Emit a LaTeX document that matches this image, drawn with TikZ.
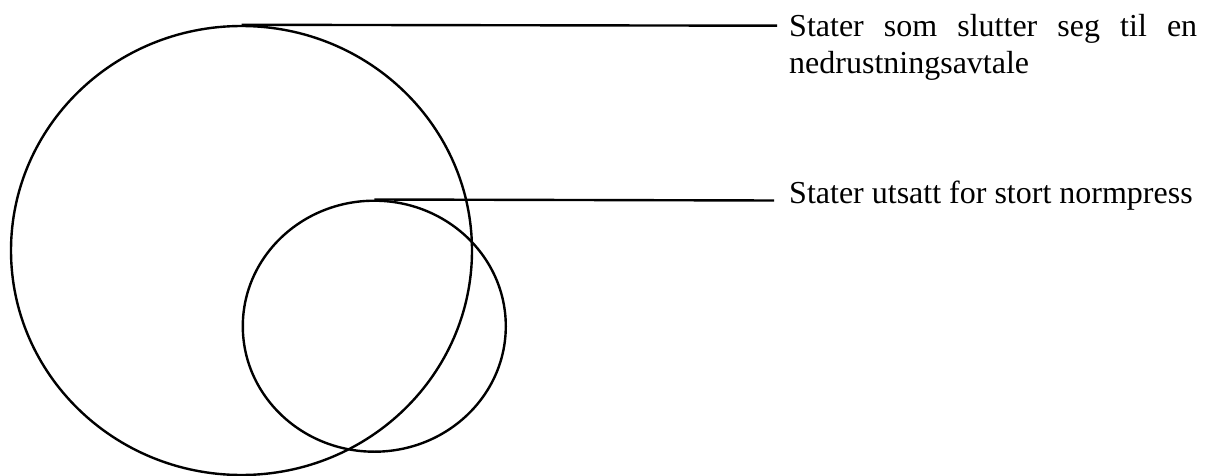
\documentclass[tikz,border=0pt]{standalone}
\usepackage{fontspec}
\setmainfont{Liberation Serif}
\usetikzlibrary{shapes.geometric}
\begin{document}
\begin{tikzpicture}[x=1pt,y=-1pt,
  set/.style={ellipse,draw=black,line width=2.4pt,inner sep=0pt},
  leader/.style={draw=black,line width=2.4pt},
  lbl/.style={anchor=base west,inner sep=0pt,font=\fontsize{32}{37}\selectfont,align=left}]
\useasboundingbox (0,0) rectangle (1205,476);
\node[set,minimum width=461pt,minimum height=449pt] (big) at (241.5,250.5) {};
\node[set,minimum width=263pt,minimum height=251pt] (small) at (374.3,326.2) {};
\coordinate (e1) at (777,25.7);
\coordinate (e2) at (774,200.5);
\node[lbl] (t1) at (789,74) {\makebox[408pt][s]{Stater som slutter seg til en}\\nedrustningsavtale};
\node[lbl] (t2) at (789,203.3) {Stater utsatt for stort normpress};
\draw[leader] (big.north) -- (e1);
\draw[leader] (small.north) -- (e2);
\end{tikzpicture}
\end{document}
